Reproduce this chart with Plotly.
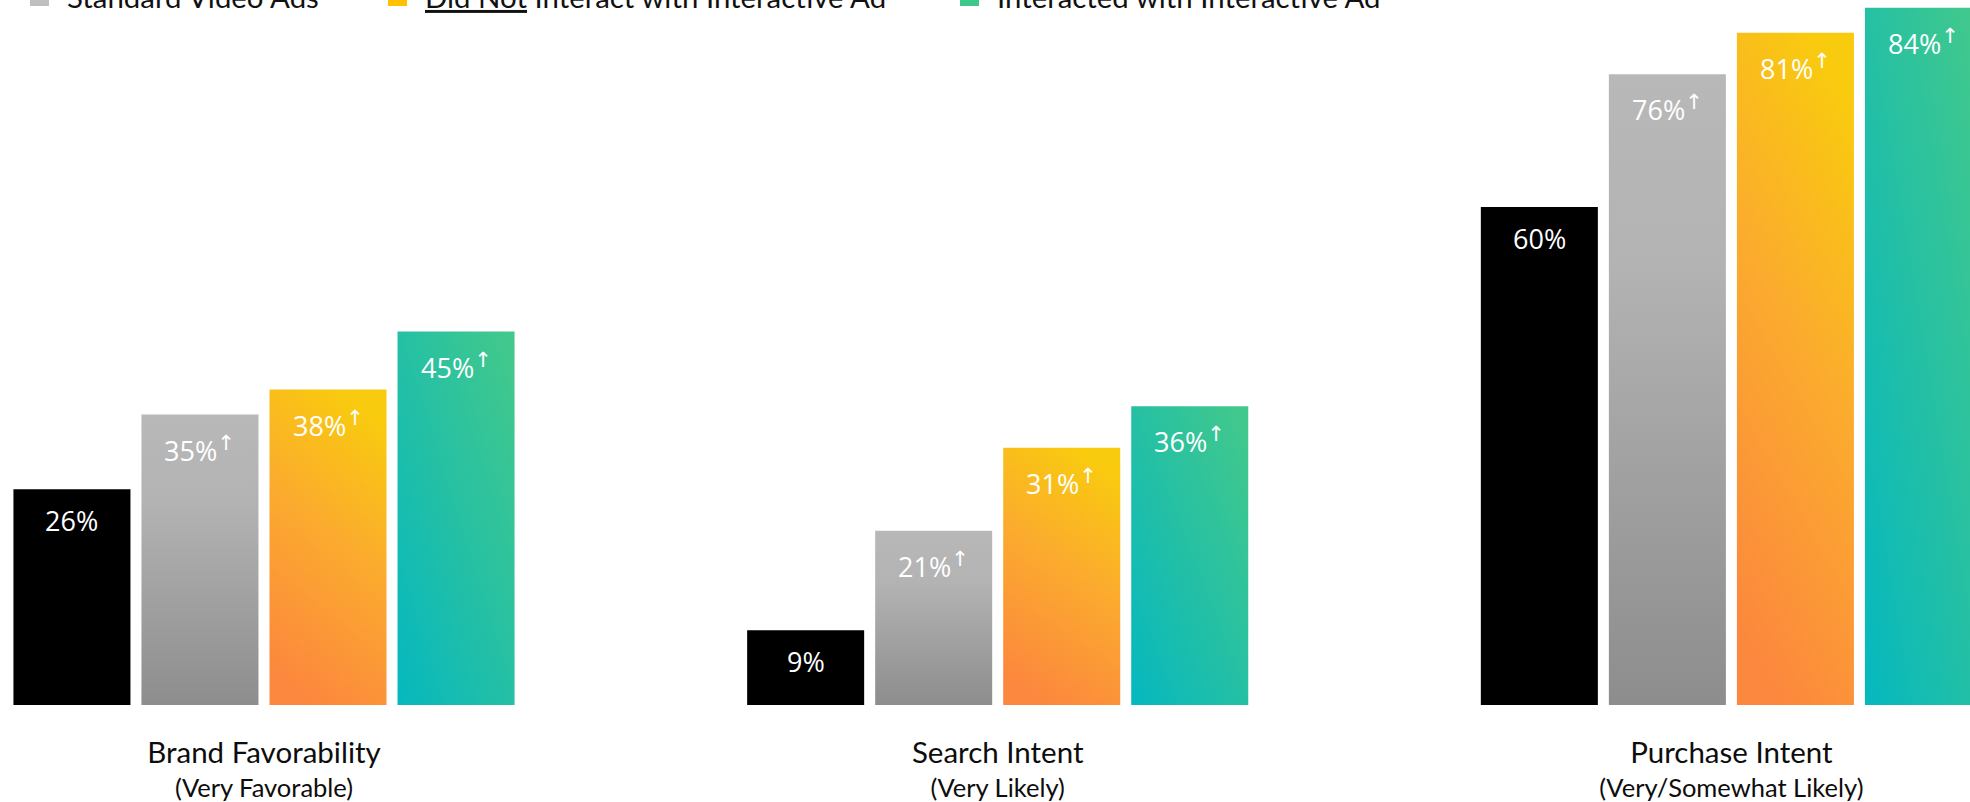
import json
import plotly.graph_objects as go

# ---- data -------------------------------------------------------------
categories = ["Brand Favorability", "Search Intent", "Purchase Intent"]
subtitles = ["(Very Favorable)", "(Very Likely)", "(Very/Somewhat Likely)"]

series_names = [
    "Control",
    "Standard Video Ads",
    "<u>Did Not</u> Interact with Interactive Ad",
    "Interacted with Interactive Ad",
]
control = [26, 9, 60]
standard_video = [35, 21, 76]
did_not_interact = [38, 31, 81]
interacted = [45, 36, 84]
significant_lift = [False, True, True, True]

# ---- style ------------------------------------------------------------
legend_colors = ["#000000", "#bfbfbf", "#ffc000", "#3fc88c"]
show_in_legend = [False, True, True, True]
legend_widths = [None, 298, 512, None]

# per-series fills (x1, y1, x2, y2 in the bar's bounding box)
bar_gradients = [
    None,
    {"v": [0.5, 0, 0.5, 1], "stops": [[0, "#b8b8b8"], [0.3, "#b3b3b3"], [1, "#8d8d8d"]]},
    {"v": [0.65, 0, 0.35, 1], "stops": [[0, "#f9cb0e"], [0.45, "#fbab2e"], [1, "#fc873e"]]},
    {"v": [1, 0, 0, 1], "stops": [[0, "#44c98a"], [0.5, "#25c0a4"], [1, "#05b8bf"]]},
]

BARGAP = 0.302
BARGROUPGAP = 0.086
LABEL_FONT = dict(family="Open Sans, DejaVu Sans", size=27, color="#ffffff")
TEXT_FONT = "Lato, Open Sans, sans-serif"

series_values = [control, standard_video, did_not_interact, interacted]

fig = go.Figure()
for i, (name, vals) in enumerate(zip(series_names, series_values)):
    kw = {}
    if legend_widths[i]:
        kw["legendwidth"] = legend_widths[i]
    fig.add_trace(go.Bar(
        x=categories,
        y=vals,
        name=name,
        marker=dict(color=legend_colors[i], line=dict(width=0)),
        showlegend=show_in_legend[i],
        hoverinfo="skip",
        **kw,
    ))

# value labels sitting just inside the top of each bar
slot = (1 - BARGAP) / len(series_values)
arrow = "<sup><span style='font-size:21px'>↑</span></sup>"
annotations = []
for ti, vals in enumerate(series_values):
    for ci, v in enumerate(vals):
        txt = f"{v}%" + (arrow if significant_lift[ti] else "")
        annotations.append(dict(
            x=ci + (ti - (len(series_values) - 1) / 2) * slot,
            y=v,
            xref="x", yref="y",
            text=txt,
            showarrow=False,
            xanchor="center", yanchor="top",
            yshift=-11,
            font=LABEL_FONT,
        ))

tick_text = [
    f"<span style='font-size:29.5px'>{c}</span><br>"
    f"<span style='font-size:25.5px'>{s}</span>"
    for c, s in zip(categories, subtitles)
]

fig.update_layout(
    width=1970,
    height=802,
    margin=dict(l=0, r=0, t=0, b=97, autoexpand=False),
    paper_bgcolor="white",
    plot_bgcolor="white",
    barmode="group",
    bargap=BARGAP,
    bargroupgap=BARGROUPGAP,
    annotations=annotations,
    legend=dict(
        orientation="h",
        x=12 / 1970, xanchor="left",
        y=1.0413, yanchor="top",
        itemwidth=45,
        font=dict(family=TEXT_FONT, size=29.4, color="#111111"),
        bgcolor="rgba(0,0,0,0)",
        traceorder="normal",
    ),
    xaxis=dict(
        type="category",
        range=[-0.3598, 2.3252],
        tickvals=categories,
        ticktext=tick_text,
        tickfont=dict(family=TEXT_FONT, size=26, color="#0d0d0d"),
        showgrid=False, zeroline=False, showline=False,
        ticks="", ticklabelstandoff=31,
        fixedrange=True,
    ),
    yaxis=dict(
        range=[0, 84.94],
        visible=False,
        showgrid=False, zeroline=False,
        fixedrange=True,
    ),
)

post_script = """
(function(){
  var gd = document.getElementById('{plot_id}');
  var specs = __SPECS__;
  var ns = 'http://www.w3.org/2000/svg';
  function paint(){
    var svg = gd.querySelector('svg.main-svg');
    if(!svg) return;
    var defs = svg.querySelector('defs');
    specs.forEach(function(s, i){
      if(!s) return;
      var id = 'barfill' + i;
      if(svg.querySelector('#' + id)) return;
      var g = document.createElementNS(ns, 'linearGradient');
      g.setAttribute('id', id);
      g.setAttribute('x1', s.v[0]); g.setAttribute('y1', s.v[1]);
      g.setAttribute('x2', s.v[2]); g.setAttribute('y2', s.v[3]);
      s.stops.forEach(function(st){
        var e = document.createElementNS(ns, 'stop');
        e.setAttribute('offset', st[0]);
        e.setAttribute('stop-color', st[1]);
        g.appendChild(e);
      });
      defs.appendChild(g);
    });
    var traces = svg.querySelectorAll('.barlayer .trace.bars');
    traces.forEach(function(t, i){
      if(!specs[i]) return;
      t.querySelectorAll('path').forEach(function(p){
        p.style.fill = 'url(#barfill' + i + ')';
      });
    });
    // larger square swatches in the legend
    gd.querySelectorAll('.legend .legendpoints path').forEach(function(p){
      p.setAttribute('d', 'M9.5,9.5H-9.5V-9.5H9.5Z');
    });
  }
  paint();
  gd.on('plotly_afterplot', paint);
})();
""".replace("__SPECS__", json.dumps(bar_gradients))

fig.write_html("out.html", post_script=post_script, config={"displayModeBar": False})
